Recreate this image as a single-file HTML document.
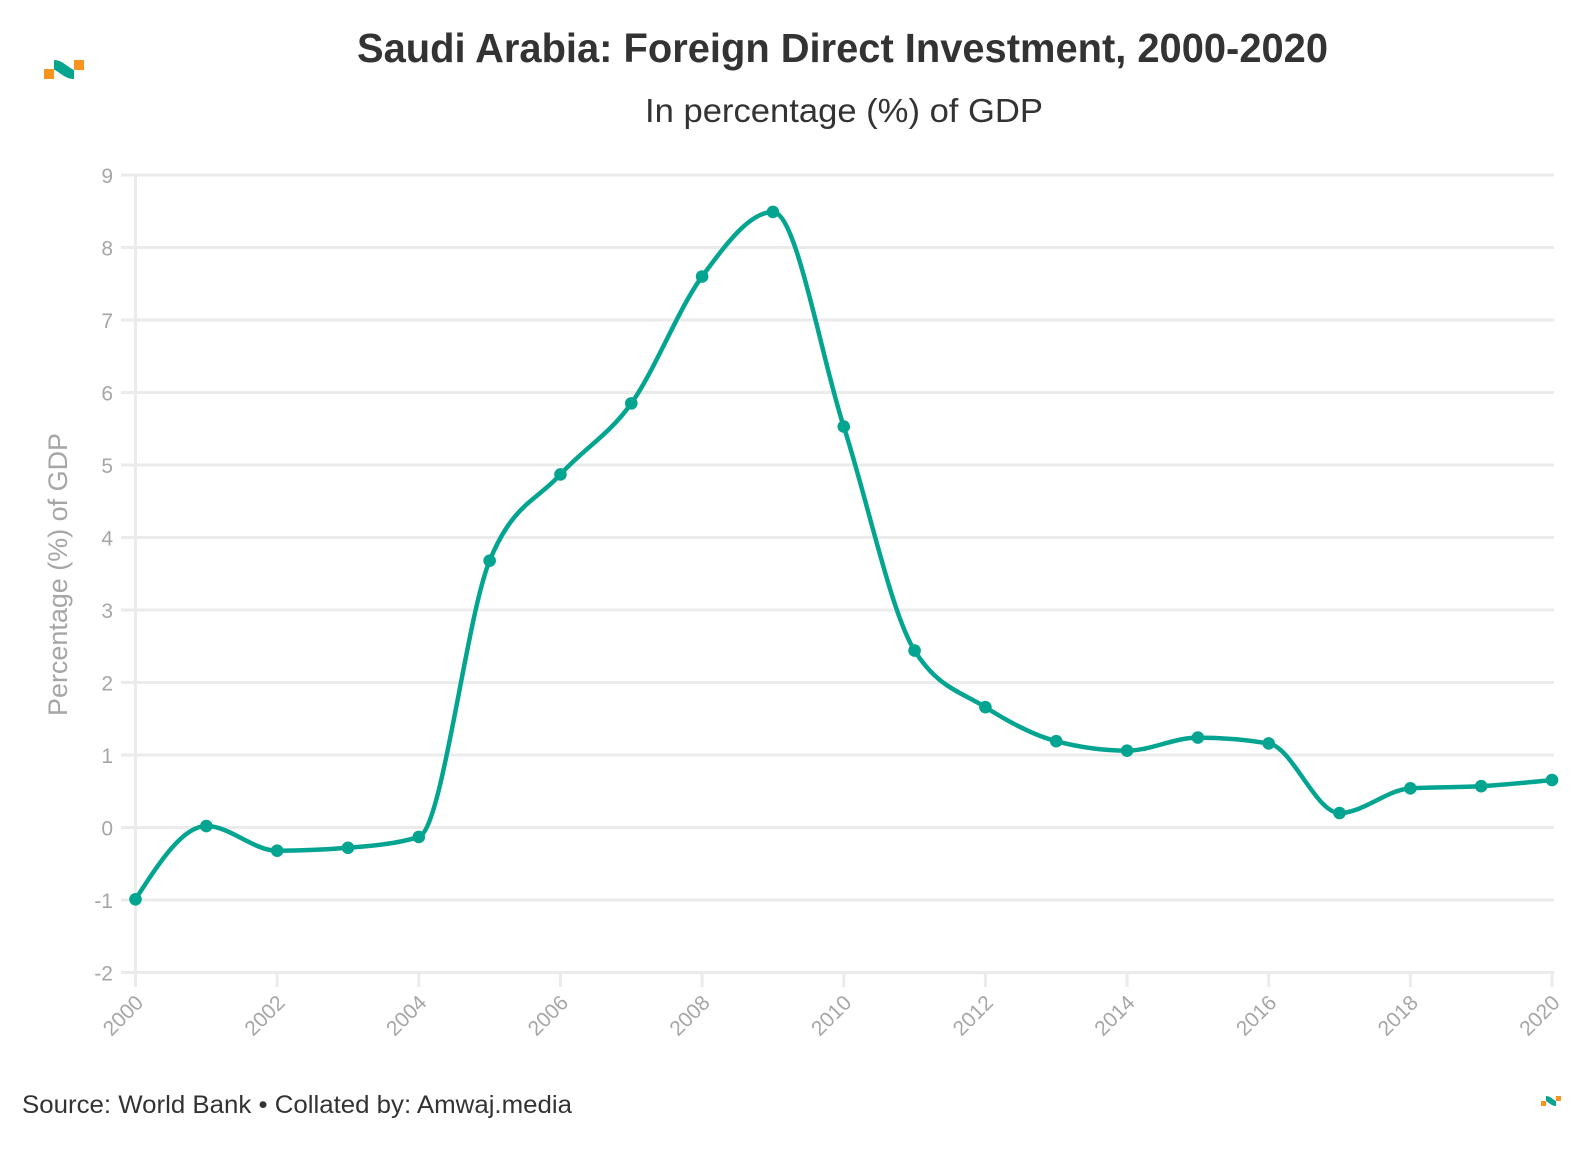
<!DOCTYPE html>
<html>
<head>
<meta charset="utf-8">
<style>
  html, body { margin: 0; padding: 0; background: #ffffff; }
  body { width: 1592px; height: 1150px; overflow: hidden; }
  svg { display: block; }
  text { font-family: "Liberation Sans", "DejaVu Sans", sans-serif; }
</style>
</head>
<body>
<svg width="1592" height="1150" viewBox="0 0 1592 1150" xmlns="http://www.w3.org/2000/svg">
  <rect x="0" y="0" width="1592" height="1150" fill="#ffffff"/>

  <!-- Top-left logo -->
  <rect x="44" y="69" width="10" height="10" fill="#f7941d"/>
  <path d="M54,60 C62,60 66,66 74,70 L74,79 C66,79 62,74 54,69.5 Z" fill="#04a58f"/>
  <rect x="74" y="60" width="10" height="10" fill="#f7941d"/>

  <!-- Title -->
  <text x="357" y="62" font-size="41" font-weight="bold" fill="#333333" textLength="971" lengthAdjust="spacingAndGlyphs">Saudi Arabia: Foreign Direct Investment, 2000-2020</text>
  <text x="645" y="122" font-size="33" fill="#333333" textLength="398" lengthAdjust="spacingAndGlyphs">In percentage (%) of GDP</text>

  <!-- Gridlines -->
  <g stroke="#ebebeb" stroke-width="3" fill="none">
    <line x1="121" y1="175" x2="1554" y2="175"/>
    <line x1="121" y1="247.5" x2="1554" y2="247.5"/>
    <line x1="121" y1="320" x2="1554" y2="320"/>
    <line x1="121" y1="392.5" x2="1554" y2="392.5"/>
    <line x1="121" y1="465" x2="1554" y2="465"/>
    <line x1="121" y1="537.5" x2="1554" y2="537.5"/>
    <line x1="121" y1="610" x2="1554" y2="610"/>
    <line x1="121" y1="682.5" x2="1554" y2="682.5"/>
    <line x1="121" y1="755" x2="1554" y2="755"/>
    <line x1="121" y1="827.5" x2="1554" y2="827.5"/>
    <line x1="121" y1="900" x2="1554" y2="900"/>
    <line x1="121" y1="972.5" x2="1554" y2="972.5"/>
    <!-- y axis line -->
    <line x1="135.5" y1="175" x2="135.5" y2="987"/>
    <!-- x ticks -->
    <line x1="277.15" y1="972.5" x2="277.15" y2="987"/>
    <line x1="418.8" y1="972.5" x2="418.8" y2="987"/>
    <line x1="560.45" y1="972.5" x2="560.45" y2="987"/>
    <line x1="702.1" y1="972.5" x2="702.1" y2="987"/>
    <line x1="843.75" y1="972.5" x2="843.75" y2="987"/>
    <line x1="985.4" y1="972.5" x2="985.4" y2="987"/>
    <line x1="1127.05" y1="972.5" x2="1127.05" y2="987"/>
    <line x1="1268.7" y1="972.5" x2="1268.7" y2="987"/>
    <line x1="1410.35" y1="972.5" x2="1410.35" y2="987"/>
    <line x1="1552" y1="972.5" x2="1552" y2="987"/>
  </g>

  <!-- Y tick labels -->
  <g font-size="21" fill="#a6a6a6" text-anchor="end">
    <text x="113" y="183">9</text>
    <text x="113" y="255.5">8</text>
    <text x="113" y="328">7</text>
    <text x="113" y="400.5">6</text>
    <text x="113" y="473">5</text>
    <text x="113" y="545.5">4</text>
    <text x="113" y="618">3</text>
    <text x="113" y="690.5">2</text>
    <text x="113" y="763">1</text>
    <text x="113" y="835.5">0</text>
    <text x="113" y="908">-1</text>
    <text x="113" y="980.5">-2</text>
  </g>

  <!-- Y axis title -->
  <text transform="translate(67,574.5) rotate(-90)" font-size="27" fill="#a6a6a6" text-anchor="middle" textLength="283" lengthAdjust="spacingAndGlyphs">Percentage (%) of GDP</text>

  <!-- X tick labels -->
  <g font-size="21" fill="#a6a6a6" text-anchor="end">
    <text transform="translate(144.5,1004) rotate(-45)">2000</text>
    <text transform="translate(286.15,1004) rotate(-45)">2002</text>
    <text transform="translate(427.8,1004) rotate(-45)">2004</text>
    <text transform="translate(569.45,1004) rotate(-45)">2006</text>
    <text transform="translate(711.1,1004) rotate(-45)">2008</text>
    <text transform="translate(852.75,1004) rotate(-45)">2010</text>
    <text transform="translate(994.4,1004) rotate(-45)">2012</text>
    <text transform="translate(1136.05,1004) rotate(-45)">2014</text>
    <text transform="translate(1277.7,1004) rotate(-45)">2016</text>
    <text transform="translate(1419.35,1004) rotate(-45)">2018</text>
    <text transform="translate(1561,1004) rotate(-45)">2020</text>
  </g>

  <!-- Series line -->
  <path fill="none" stroke="#03a591" stroke-width="4.5" stroke-linejoin="round" stroke-linecap="round"
    d="M135.5,899.28
       C159.11,862.67 182.72,826.05 206.33,826.05
       C229.94,826.05 253.54,850.70 277.15,850.70
       C300.76,850.70 324.37,849.73 347.98,847.80
       C371.59,845.87 395.19,844.18 418.8,836.93
       C442.41,829.68 466.02,618.22 489.63,560.70
       C513.24,503.18 536.84,500.65 560.45,474.43
       C584.06,448.21 607.67,436.37 631.28,403.38
       C654.89,370.39 678.49,308.40 702.1,276.50
       C725.71,244.60 749.32,211.98 772.93,211.98
       C796.54,211.98 820.14,353.48 843.75,426.58
       C867.36,499.68 890.97,612.90 914.58,650.60
       C938.19,688.30 961.79,692.05 985.4,707.15
       C1009.01,722.25 1032.62,734.95 1056.23,741.23
       C1079.84,747.51 1103.44,750.65 1127.05,750.65
       C1150.66,750.65 1174.27,737.60 1197.88,737.60
       C1221.49,737.60 1245.09,739.53 1268.7,743.40
       C1292.31,747.27 1315.92,813.00 1339.53,813.00
       C1363.14,813.00 1386.74,789.80 1410.35,788.35
       C1433.96,786.90 1457.57,787.57 1481.18,786.18
       C1504.79,784.79 1528.39,782.40 1552,780.01"/>

  <!-- Points -->
  <g fill="#03a591">
    <circle cx="135.5" cy="899.28" r="6.3"/>
    <circle cx="206.33" cy="826.05" r="6.3"/>
    <circle cx="277.15" cy="850.70" r="6.3"/>
    <circle cx="347.98" cy="847.80" r="6.3"/>
    <circle cx="418.8" cy="836.93" r="6.3"/>
    <circle cx="489.63" cy="560.70" r="6.3"/>
    <circle cx="560.45" cy="474.43" r="6.3"/>
    <circle cx="631.28" cy="403.38" r="6.3"/>
    <circle cx="702.1" cy="276.50" r="6.3"/>
    <circle cx="772.93" cy="211.98" r="6.3"/>
    <circle cx="843.75" cy="426.58" r="6.3"/>
    <circle cx="914.58" cy="650.60" r="6.3"/>
    <circle cx="985.4" cy="707.15" r="6.3"/>
    <circle cx="1056.23" cy="741.23" r="6.3"/>
    <circle cx="1127.05" cy="750.65" r="6.3"/>
    <circle cx="1197.88" cy="737.60" r="6.3"/>
    <circle cx="1268.7" cy="743.40" r="6.3"/>
    <circle cx="1339.53" cy="813.00" r="6.3"/>
    <circle cx="1410.35" cy="788.35" r="6.3"/>
    <circle cx="1481.18" cy="786.18" r="6.3"/>
    <circle cx="1552" cy="780.01" r="6.3"/>
  </g>

  <!-- Footer -->
  <text x="22" y="1113" font-size="25" fill="#333333" textLength="550" lengthAdjust="spacingAndGlyphs">Source: World Bank • Collated by: Amwaj.media</text>

  <!-- Bottom-right logo -->
  <rect x="1541" y="1101" width="5" height="5" fill="#f7941d"/>
  <path d="M1546,1096 C1550,1096 1552,1099 1556,1101 L1556,1106 C1552,1106 1550,1103.5 1546,1101 Z" fill="#04a58f"/>
  <rect x="1556" y="1096" width="5" height="5" fill="#f7941d"/>
</svg>
</body>
</html>
